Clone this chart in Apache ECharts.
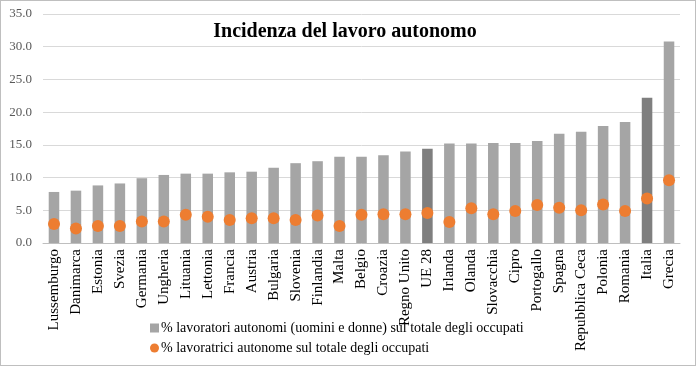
<!DOCTYPE html>
<html><head><meta charset="utf-8">
<script src="https://cdn.jsdelivr.net/npm/echarts@6/dist/echarts.min.js"></script>
<style>
html,body{margin:0;padding:0;background:#fff;}
#c{width:694px;height:364px;border:1px solid #BFBFBF;}
</style></head>
<body><div id="c"></div>
<script>
const categories = ["Lussemburgo","Danimarca","Estonia","Svezia","Germania","Ungheria","Lituania","Lettonia","Francia","Austria","Bulgaria","Slovenia","Finlandia","Malta","Belgio","Croazia","Regno Unito","UE 28","Irlanda","Olanda","Slovacchia","Cipro","Portogallo","Spagna","Repubblica Ceca","Polonia","Romania","Italia","Grecia"];
const totale = [7.8,8.0,8.8,9.1,9.9,10.4,10.6,10.6,10.8,10.9,11.5,12.2,12.5,13.2,13.2,13.4,14.0,14.4,15.2,15.2,15.3,15.3,15.6,16.7,17.0,17.9,18.5,22.2,30.8];
const donne = [2.9,2.2,2.6,2.6,3.3,3.3,4.3,4.0,3.5,3.8,3.8,3.5,4.2,2.6,4.3,4.4,4.4,4.6,3.2,5.3,4.4,4.9,5.8,5.4,5.0,5.9,4.9,6.8,9.6];
const highlighted = ["UE 28","Italia"];
const yTicks = {min:0,max:35,interval:5};
const serie1 = "% lavoratori autonomi (uomini e donne) sul totale degli occupati";
const serie2 = "% lavoratrici autonome sul totale degli occupati";

const chart = echarts.init(document.getElementById('c'));
const font = "'Liberation Serif','DejaVu Serif',serif";
chart.setOption({
  animation:false,
  textStyle:{fontFamily:font},
  title:{text:"Incidenza del lavoro autonomo",left:339,top:16,textAlign:'center',
    textStyle:{fontFamily:font,fontSize:20,fontWeight:'bold',color:'#000'}},
  grid:{left:42,right:15,top:13,bottom:122},
  legend:{orient:'vertical',left:144,top:315,itemGap:6,itemWidth:9,itemHeight:9,
    textStyle:{fontFamily:font,fontSize:14,color:'#000',padding:[0,0,0,-3]},
    data:[{name:serie1,icon:'rect',itemStyle:{color:'#A5A5A5'}},{name:serie2,icon:'circle'}]},
  xAxis:{type:'category',data:categories,
    axisTick:{show:false},
    axisLine:{lineStyle:{color:'#BFBFBF'}},
    axisLabel:{rotate:90,interval:0,fontFamily:font,fontSize:15,color:'#000',margin:6}},
  yAxis:{type:'value',min:yTicks.min,max:yTicks.max,interval:yTicks.interval,
    axisLine:{show:false},axisTick:{show:false},
    splitLine:{lineStyle:{color:'#D9D9D9',width:1}},
    axisLabel:{formatter:v=>v.toFixed(1),fontFamily:font,fontSize:13,color:'#595959',margin:11}},
  series:[
    {name:serie1,type:'bar',barWidth:'48%',
      data:totale.map((v,i)=>({value:v,itemStyle:{color:highlighted.includes(categories[i])?'#7F7F7F':'#A5A5A5'}})),
      itemStyle:{color:'#A5A5A5'}},
    {name:serie2,type:'scatter',symbol:'circle',symbolSize:12,data:donne,
      itemStyle:{color:'#ED7D31',opacity:1}}
  ]
});
</script></body></html>
